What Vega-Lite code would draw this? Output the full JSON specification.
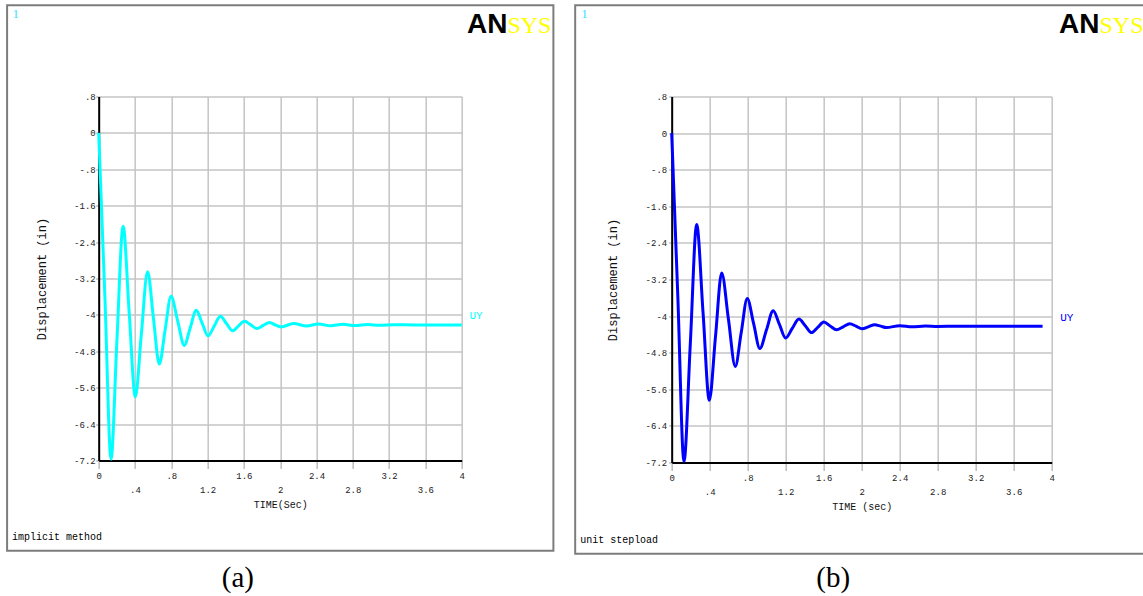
{
  "$schema": "https://vega.github.io/schema/vega-lite/v6.json",
  "background": "white",
  "autosize": {"type": "pad"},
  "padding": {"left": 5.7, "top": 3.5, "right": 0, "bottom": 0},
  "bounds": "flush",
  "align": "none",
  "spacing": 210,
  "config": {
    "view": {"stroke": null},
    "axis": {
      "labelFont": "Liberation Mono", "labelFontSize": 9, "labelColor": "#222222",
      "titleFont": "Liberation Mono", "titleFontWeight": "normal", "titleColor": "#111111",
      "domainColor": "#000000", "domainWidth": 2,
      "gridColor": "#c4c4c4", "gridWidth": 1.5,
      "tickColor": "#bdbdbd", "tickWidth": 1.5,
      "labelOverlap": false, "labelFlush": false, "labelBound": false
    }
  },
  "datasets": {
    "implicit": [
      {"t": 0, "v": 0}, {"t": 0.07, "v": -3.7}, {"t": 0.136, "v": -7.17}, {"t": 0.2, "v": -4.6},
      {"t": 0.269, "v": -2.05}, {"t": 0.336, "v": -3.95}, {"t": 0.404, "v": -5.8}, {"t": 0.47, "v": -4.42},
      {"t": 0.539, "v": -3.05}, {"t": 0.603, "v": -4.07}, {"t": 0.668, "v": -5.08}, {"t": 0.732, "v": -4.33},
      {"t": 0.797, "v": -3.59}, {"t": 0.87, "v": -4.13}, {"t": 0.943, "v": -4.67}, {"t": 1.009, "v": -4.28},
      {"t": 1.075, "v": -3.9}, {"t": 1.14, "v": -4.18}, {"t": 1.204, "v": -4.46}, {"t": 1.272, "v": -4.25},
      {"t": 1.34, "v": -4.03}, {"t": 1.408, "v": -4.19}, {"t": 1.475, "v": -4.35}, {"t": 1.541, "v": -4.24},
      {"t": 1.607, "v": -4.14}, {"t": 1.675, "v": -4.22}, {"t": 1.744, "v": -4.3}, {"t": 1.813, "v": -4.23},
      {"t": 1.882, "v": -4.165}, {"t": 1.945, "v": -4.22}, {"t": 2.008, "v": -4.265}, {"t": 2.146, "v": -4.19},
      {"t": 2.29, "v": -4.245}, {"t": 2.42, "v": -4.2}, {"t": 2.555, "v": -4.24}, {"t": 2.69, "v": -4.205},
      {"t": 2.825, "v": -4.235}, {"t": 2.96, "v": -4.21}, {"t": 3.1, "v": -4.23}, {"t": 3.25, "v": -4.215},
      {"t": 3.5, "v": -4.222}, {"t": 3.75, "v": -4.222}, {"t": 4.0, "v": -4.222}
    ],
    "stepload": [
      {"t": 0, "v": 0}, {"t": 0.065, "v": -3.6}, {"t": 0.129, "v": -7.18}, {"t": 0.196, "v": -4.6},
      {"t": 0.263, "v": -2.0}, {"t": 0.33, "v": -3.92}, {"t": 0.396, "v": -5.84}, {"t": 0.461, "v": -4.45},
      {"t": 0.526, "v": -3.06}, {"t": 0.598, "v": -4.08}, {"t": 0.669, "v": -5.1}, {"t": 0.732, "v": -4.36},
      {"t": 0.795, "v": -3.615}, {"t": 0.862, "v": -4.16}, {"t": 0.928, "v": -4.71}, {"t": 0.998, "v": -4.3},
      {"t": 1.068, "v": -3.885}, {"t": 1.134, "v": -4.18}, {"t": 1.199, "v": -4.48}, {"t": 1.269, "v": -4.27},
      {"t": 1.339, "v": -4.065}, {"t": 1.406, "v": -4.21}, {"t": 1.472, "v": -4.36}, {"t": 1.537, "v": -4.245},
      {"t": 1.601, "v": -4.13}, {"t": 1.668, "v": -4.215}, {"t": 1.735, "v": -4.3}, {"t": 1.805, "v": -4.235},
      {"t": 1.875, "v": -4.168}, {"t": 1.94, "v": -4.22}, {"t": 2.004, "v": -4.277}, {"t": 2.07, "v": -4.235},
      {"t": 2.137, "v": -4.19}, {"t": 2.2, "v": -4.22}, {"t": 2.26, "v": -4.25}, {"t": 2.4, "v": -4.21},
      {"t": 2.53, "v": -4.235}, {"t": 2.67, "v": -4.215}, {"t": 2.8, "v": -4.225}, {"t": 3.0, "v": -4.22},
      {"t": 3.5, "v": -4.22}, {"t": 3.904, "v": -4.22}
    ]
  },
  "hconcat": [
    {
      "width": 363,
      "height": 364,
      "layer": [
        {
          "data": {"values": [{}]},
          "mark": {"type": "rect", "fill": "transparent", "stroke": "#7d7d7d", "strokeWidth": 2},
          "encoding": {
            "x": {"datum": -1.0094, "type": "quantitative"}, "x2": {"datum": 5.0105},
            "y": {"datum": 2.8044, "type": "quantitative"}, "y2": {"datum": -9.1846}
          }
        },
        {
          "data": {"name": "implicit"},
          "mark": {"type": "line", "color": "#00ffff", "strokeWidth": 3, "interpolate": "monotone"},
          "encoding": {
            "x": {
              "field": "t", "type": "quantitative",
              "scale": {"domain": [0, 4], "nice": false, "zero": false},
              "axis": {
                "title": "TIME(Sec)", "titleFontSize": 10, "titlePadding": 5,
                "grid": true, "ticks": true, "domain": true, "labels": true, "tickCount": 40,
                "labelOverlap": false, "labelFlush": false, "labelBound": false,
                "values": [0, 0.4, 0.8, 1.2, 1.6, 2, 2.4, 2.8, 3.2, 3.6, 4],
                "labelExpr": "replace('' + datum.value, '0.', '.')",
                "labelPadding": {"condition": {"test": "round(datum.value*10) % 8 == 4", "value": 17.5}, "value": 3},
                "tickSize": 8
              }
            },
            "y": {
              "field": "v", "type": "quantitative",
              "scale": {"domain": [-7.2, 0.8], "nice": false, "zero": false},
              "axis": {
                "title": "Displacement (in)", "titleFontSize": 12, "titlePadding": 25,
                "grid": true, "ticks": true, "domain": true, "labels": true, "tickCount": 40,
                "labelOverlap": false, "labelFlush": false, "labelBound": false,
                "values": [0.8, 0, -0.8, -1.6, -2.4, -3.2, -4, -4.8, -5.6, -6.4, -7.2],
                "labelExpr": "replace('' + datum.value, '0.', '.')",
                "labelPadding": 0.5, "tickSize": 3
              }
            }
          }
        },
        {
          "data": {"values": [{}]},
          "mark": {"type": "text", "text": "UY", "align": "left", "baseline": "middle", "font": "Liberation Mono", "fontSize": 11, "color": "#00ffff"},
          "encoding": {"x": {"datum": 4.085, "type": "quantitative"}, "y": {"datum": -4.026, "type": "quantitative"}}
        },
        {
          "data": {"values": [{}]},
          "mark": {"type": "text", "text": "1", "align": "left", "baseline": "alphabetic", "font": "Liberation Serif", "fontSize": 13, "color": "#33dfff"},
          "encoding": {"x": {"datum": -0.951, "type": "quantitative"}, "y": {"datum": 2.519, "type": "quantitative"}}
        },
        {
          "data": {"values": [{}]},
          "mark": {"type": "text", "text": "AN", "align": "right", "baseline": "alphabetic", "font": "Liberation Sans", "fontWeight": "bold", "fontSize": 28, "color": "#000000"},
          "encoding": {"x": {"datum": 4.504, "type": "quantitative"}, "y": {"datum": 2.193, "type": "quantitative"}}
        },
        {
          "data": {"values": [{}]},
          "mark": {"type": "text", "text": "SYS", "align": "left", "baseline": "alphabetic", "font": "Liberation Serif", "fontSize": 24, "color": "#ffff00"},
          "encoding": {"x": {"datum": 4.504, "type": "quantitative"}, "y": {"datum": 2.193, "type": "quantitative"}}
        },
        {
          "data": {"values": [{}]},
          "mark": {"type": "text", "text": "implicit method", "align": "left", "baseline": "middle", "font": "Liberation Mono", "fontSize": 10, "color": "#000000"},
          "encoding": {"x": {"datum": -0.954, "type": "quantitative"}, "y": {"datum": -8.877, "type": "quantitative"}}
        },
        {
          "data": {"values": [{}]},
          "mark": {"type": "text", "text": "(a)", "align": "center", "baseline": "alphabetic", "font": "Liberation Serif", "fontSize": 29, "color": "#000000"},
          "encoding": {"x": {"datum": 1.534, "type": "quantitative"}, "y": {"datum": -9.991, "type": "quantitative"}}
        }
      ]
    },
    {
      "width": 380,
      "height": 366,
      "layer": [
        {
          "data": {"values": [{}]},
          "mark": {"type": "rect", "fill": "transparent", "stroke": "#7d7d7d", "strokeWidth": 2},
          "encoding": {
            "x": {"datum": -1.016, "type": "quantitative"}, "x2": {"datum": 4.995},
            "y": {"datum": 2.793, "type": "quantitative"}, "y2": {"datum": -9.196}
          }
        },
        {
          "data": {"name": "stepload"},
          "mark": {"type": "line", "color": "#0000ff", "strokeWidth": 3, "interpolate": "monotone"},
          "encoding": {
            "x": {
              "field": "t", "type": "quantitative",
              "scale": {"domain": [0, 4], "nice": false, "zero": false},
              "axis": {
                "title": "TIME (sec)", "titleFontSize": 10, "titlePadding": 5,
                "grid": true, "ticks": true, "domain": true, "labels": true, "tickCount": 40,
                "labelOverlap": false, "labelFlush": false, "labelBound": false,
                "values": [0, 0.4, 0.8, 1.2, 1.6, 2, 2.4, 2.8, 3.2, 3.6, 4],
                "labelExpr": "replace('' + datum.value, '0.', '.')",
                "labelPadding": {"condition": {"test": "round(datum.value*10) % 8 == 4", "value": 17.5}, "value": 3},
                "tickSize": 8
              }
            },
            "y": {
              "field": "v", "type": "quantitative",
              "scale": {"domain": [-7.2, 0.8], "nice": false, "zero": false},
              "axis": {
                "title": "Displacement (in)", "titleFontSize": 12, "titlePadding": 26,
                "grid": true, "ticks": true, "domain": true, "labels": true, "tickCount": 40,
                "labelOverlap": false, "labelFlush": false, "labelBound": false,
                "values": [0.8, 0, -0.8, -1.6, -2.4, -3.2, -4, -4.8, -5.6, -6.4, -7.2],
                "labelExpr": "replace('' + datum.value, '0.', '.')",
                "labelPadding": 2, "tickSize": 3
              }
            }
          }
        },
        {
          "data": {"values": [{}]},
          "mark": {"type": "text", "text": "UY", "align": "left", "baseline": "middle", "font": "Liberation Mono", "fontSize": 11, "color": "#0000ff"},
          "encoding": {"x": {"datum": 4.089, "type": "quantitative"}, "y": {"datum": -4.031, "type": "quantitative"}}
        },
        {
          "data": {"values": [{}]},
          "mark": {"type": "text", "text": "1", "align": "left", "baseline": "alphabetic", "font": "Liberation Serif", "fontSize": 13, "color": "#33dfff"},
          "encoding": {"x": {"datum": -0.953, "type": "quantitative"}, "y": {"datum": 2.509, "type": "quantitative"}}
        },
        {
          "data": {"values": [{}]},
          "mark": {"type": "text", "text": "AN", "align": "right", "baseline": "alphabetic", "font": "Liberation Sans", "fontWeight": "bold", "fontSize": 28, "color": "#000000"},
          "encoding": {"x": {"datum": 4.503, "type": "quantitative"}, "y": {"datum": 2.186, "type": "quantitative"}}
        },
        {
          "data": {"values": [{}]},
          "mark": {"type": "text", "text": "SYS", "align": "left", "baseline": "alphabetic", "font": "Liberation Serif", "fontSize": 24, "color": "#ffff00"},
          "encoding": {"x": {"datum": 4.503, "type": "quantitative"}, "y": {"datum": 2.186, "type": "quantitative"}}
        },
        {
          "data": {"values": [{}]},
          "mark": {"type": "text", "text": "unit stepload", "align": "left", "baseline": "middle", "font": "Liberation Mono", "fontSize": 10, "color": "#000000"},
          "encoding": {"x": {"datum": -0.963, "type": "quantitative"}, "y": {"datum": -8.896, "type": "quantitative"}}
        },
        {
          "data": {"values": [{}]},
          "mark": {"type": "text", "text": "(b)", "align": "center", "baseline": "alphabetic", "font": "Liberation Serif", "fontSize": 29, "color": "#000000"},
          "encoding": {"x": {"datum": 1.7, "type": "quantitative"}, "y": {"datum": -9.928, "type": "quantitative"}}
        }
      ]
    }
  ]
}
